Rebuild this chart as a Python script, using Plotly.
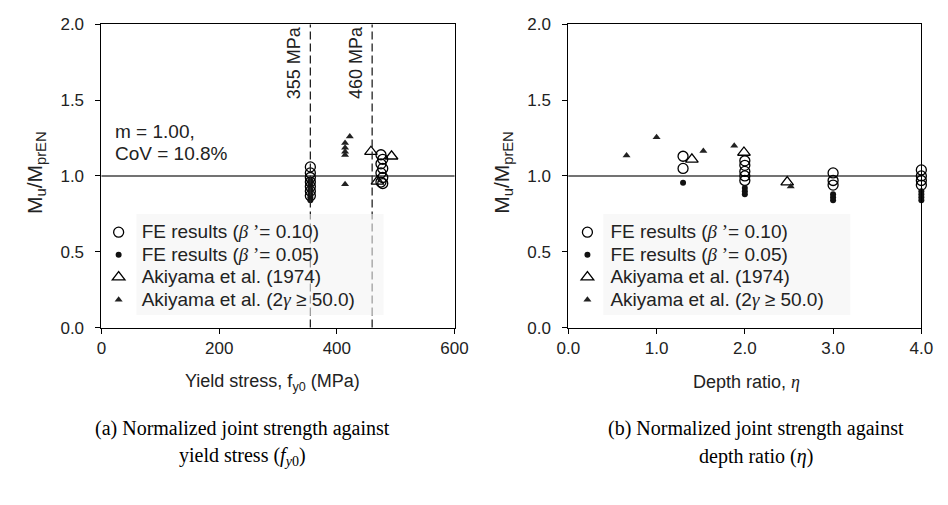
import plotly.graph_objects as go

# ---- panel (a): normalized strength vs. yield stress ----
fy_fe10 = [355, 355, 355, 355, 355, 355, 355, 475, 475, 475, 475, 478, 478, 478, 478]
mu_fe10_a = [1.06, 1.02, 0.99, 0.96, 0.93, 0.90, 0.87, 1.14, 1.08, 1.02, 0.96, 1.11, 1.05, 0.99, 0.95]
fy_fe05 = [355, 355, 355, 355, 355, 355]
mu_fe05_a = [0.97, 0.94, 0.91, 0.88, 0.86, 0.84]
fy_aki = [458, 493, 469]
mu_aki_a = [1.16, 1.13, 0.965]
fy_aki50 = [422, 414, 414, 414, 414, 414]
mu_aki50_a = [1.26, 1.217, 1.187, 1.16, 1.138, 0.946]
steel_grades = [355, 460]
grade_labels = ["355 MPa", "460 MPa"]

# ---- panel (b): normalized strength vs. depth ratio ----
eta_fe10 = [1.3, 1.3, 2.0, 2.0, 2.0, 2.0, 2.0, 3.0, 3.0, 3.0, 4.0, 4.0, 4.0, 4.0]
mu_fe10_b = [1.13, 1.05, 1.10, 1.07, 1.03, 1.00, 0.97, 1.02, 0.97, 0.94, 1.04, 1.00, 0.97, 0.94]
eta_fe05 = [1.3, 2.0, 2.0, 2.0, 3.0, 3.0, 3.0, 4.0, 4.0, 4.0, 4.0]
mu_fe05_b = [0.955, 0.92, 0.90, 0.88, 0.88, 0.86, 0.84, 0.90, 0.88, 0.86, 0.84]
eta_aki = [1.40, 1.99, 2.48]
mu_aki_b = [1.11, 1.155, 0.96]
eta_aki50 = [0.66, 1.00, 1.53, 1.88, 2.52]
mu_aki50_b = [1.135, 1.255, 1.165, 1.20, 0.93]

GREEK = "font-family:'Liberation Serif'"
series_names = [
    f"FE results (<span style=\"{GREEK}\"><i>β</i> ’</span>= 0.10)",
    f"FE results (<span style=\"{GREEK}\"><i>β</i> ’</span>= 0.05)",
    "Akiyama et al. (1974)",
    f"Akiyama et al. (2<span style=\"{GREEK}\"><i>γ</i></span> ≥ 50.0)",
]

W, H = 948, 505
SANS = "Liberation Sans, Arial, sans-serif"
SERIF = "Liberation Serif, Times New Roman, serif"
INK = "#222222"


def px(x):
    return x / W


def py(y):
    return 1 - y / H


styles = [
    dict(symbol="circle-open", size=10, color="black", line=dict(width=1.3, color="black")),
    dict(symbol="circle", size=6, color="#111111"),
    dict(symbol="triangle-up-open", size=11, color="black", line=dict(width=1.3, color="black")),
    dict(symbol="triangle-up", size=7, color="#222222"),
]

fig = go.Figure()

panel_a = [(fy_fe10, mu_fe10_a), (fy_fe05, mu_fe05_a), (fy_aki, mu_aki_a), (fy_aki50, mu_aki50_a)]
panel_b = [(eta_fe10, mu_fe10_b), (eta_fe05, mu_fe05_b), (eta_aki, mu_aki_b), (eta_aki50, mu_aki50_b)]


def legend_label(name):
    return f"<span style=\"font-size:19px\">{name}</span>"


for (xs, ys), name, st in zip(panel_a, series_names, styles):
    fig.add_trace(go.Scatter(x=xs, y=ys, mode="markers", name=legend_label(name), marker=st,
                             xaxis="x", yaxis="y", legend="legend", cliponaxis=False))
for (xs, ys), name, st in zip(panel_b, series_names, styles):
    fig.add_trace(go.Scatter(x=xs, y=ys, mode="markers", name=legend_label(name), marker=st,
                             xaxis="x2", yaxis="y2", legend="legend2", cliponaxis=False))

axis_common = dict(showline=True, linecolor="black", linewidth=1, mirror=True,
                   ticks="outside", ticklen=5, tickcolor="black", tickwidth=1,
                   showgrid=False, zeroline=False,
                   tickfont=dict(family=SANS, size=17, color=INK))

legend_common = dict(xanchor="left", yanchor="top", bgcolor="rgba(0,0,0,0)",
                     font=dict(family=SANS, size=15, color=INK), itemwidth=36,
                     itemclick=False, itemdoubleclick=False)

fig.update_layout(
    width=W, height=H,
    margin=dict(l=0, r=0, t=0, b=0),
    paper_bgcolor="white", plot_bgcolor="white",
    xaxis=dict(domain=[px(92), px(455)], range=[0, 600], tickvals=[0, 200, 400, 600],
               anchor="y", **axis_common),
    yaxis=dict(domain=[py(331), py(16)], range=[0, 2], dtick=0.5, tickformat=".1f",
               anchor="x", ticklabelstandoff=8, **axis_common),
    xaxis2=dict(domain=[px(572), px(935)], range=[0, 4], dtick=1, tickformat=".1f",
                anchor="y2", **axis_common),
    yaxis2=dict(domain=[py(331), py(16)], range=[0, 2], dtick=0.5, tickformat=".1f",
                anchor="x2", ticklabelstandoff=8, **axis_common),
    legend=dict(x=px(86), y=py(215), **legend_common),
    legend2=dict(x=px(568), y=py(215), **legend_common),
)

shapes = []
# reference line at unity
for xr, yr in (("x", "y"), ("x2", "y2")):
    shapes.append(dict(type="line", xref=f"{xr} domain", x0=0, x1=1, yref=yr, y0=1, y1=1,
                       line=dict(color="#444", width=1.5), layer="below"))
# steel grade markers
for g in steel_grades:
    shapes.append(dict(type="line", xref="x", x0=g, x1=g, yref="y domain", y0=0, y1=1,
                       line=dict(color="#222", width=1.3, dash="8px,4px"), layer="above"))
# soft legend panels
for x0, x1 in ((128, 382), (608, 862)):
    shapes.append(dict(type="rect", xref="paper", yref="paper",
                       x0=px(x0), x1=px(x1), y0=py(318), y1=py(213),
                       fillcolor="rgba(243,243,243,0.6)", line=dict(width=0), layer="above"))
fig.update_layout(shapes=shapes)

ann = []
# rotated grade labels
for g, lab in zip(steel_grades, grade_labels):
    ann.append(dict(x=g, xref="x", xshift=-16, y=py(56), yref="paper", text=lab,
                    textangle=-90, showarrow=False, xanchor="center", yanchor="middle",
                    font=dict(family=SANS, size=18, color=INK)))
# statistics
for yc, t in ((127, "m = 1.00,"), (150, "CoV = 10.8%")):
    ann.append(dict(x=px(104), y=py(yc), xref="paper", yref="paper", text=t,
                    showarrow=False, xanchor="left", yanchor="middle",
                    font=dict(family=SANS, size=19, color=INK)))
# axis titles
ytitle = "M<sub>u</sub>/M<sub>prEN</sub>"
for xc in (24, 504):
    ann.append(dict(x=px(xc), y=py(170), xref="paper", yref="paper", text=ytitle,
                    textangle=-90, showarrow=False, xanchor="center", yanchor="middle",
                    font=dict(family=SANS, size=21, color=INK)))
ann.append(dict(x=px(268), y=py(388), xref="paper", yref="paper",
                text="Yield stress, f<sub>y0</sub> (MPa)", showarrow=False,
                xanchor="center", yanchor="middle", font=dict(family=SANS, size=18, color=INK)))
ann.append(dict(x=px(755), y=py(388), xref="paper", yref="paper",
                text=f"Depth ratio, <span style=\"{GREEK}\"><i>η</i></span>",
                showarrow=False, xanchor="center", yanchor="middle",
                font=dict(family=SANS, size=18, color=INK)))
# captions
captions = [
    (237, ["(a) Normalized joint strength against", "yield stress (<i>f</i><sub><i>y</i>0</sub>)"]),
    (765, ["(b) Normalized joint strength against", "depth ratio (<i>η</i>)"]),
]
for xc, lines in captions:
    for yc, t in zip((436, 465), lines):
        ann.append(dict(x=px(xc), y=py(yc), xref="paper", yref="paper", text=t,
                        showarrow=False, xanchor="center", yanchor="middle",
                        font=dict(family=SERIF, size=20, color="black")))
fig.update_layout(annotations=ann)

fig.write_html("out.html")
